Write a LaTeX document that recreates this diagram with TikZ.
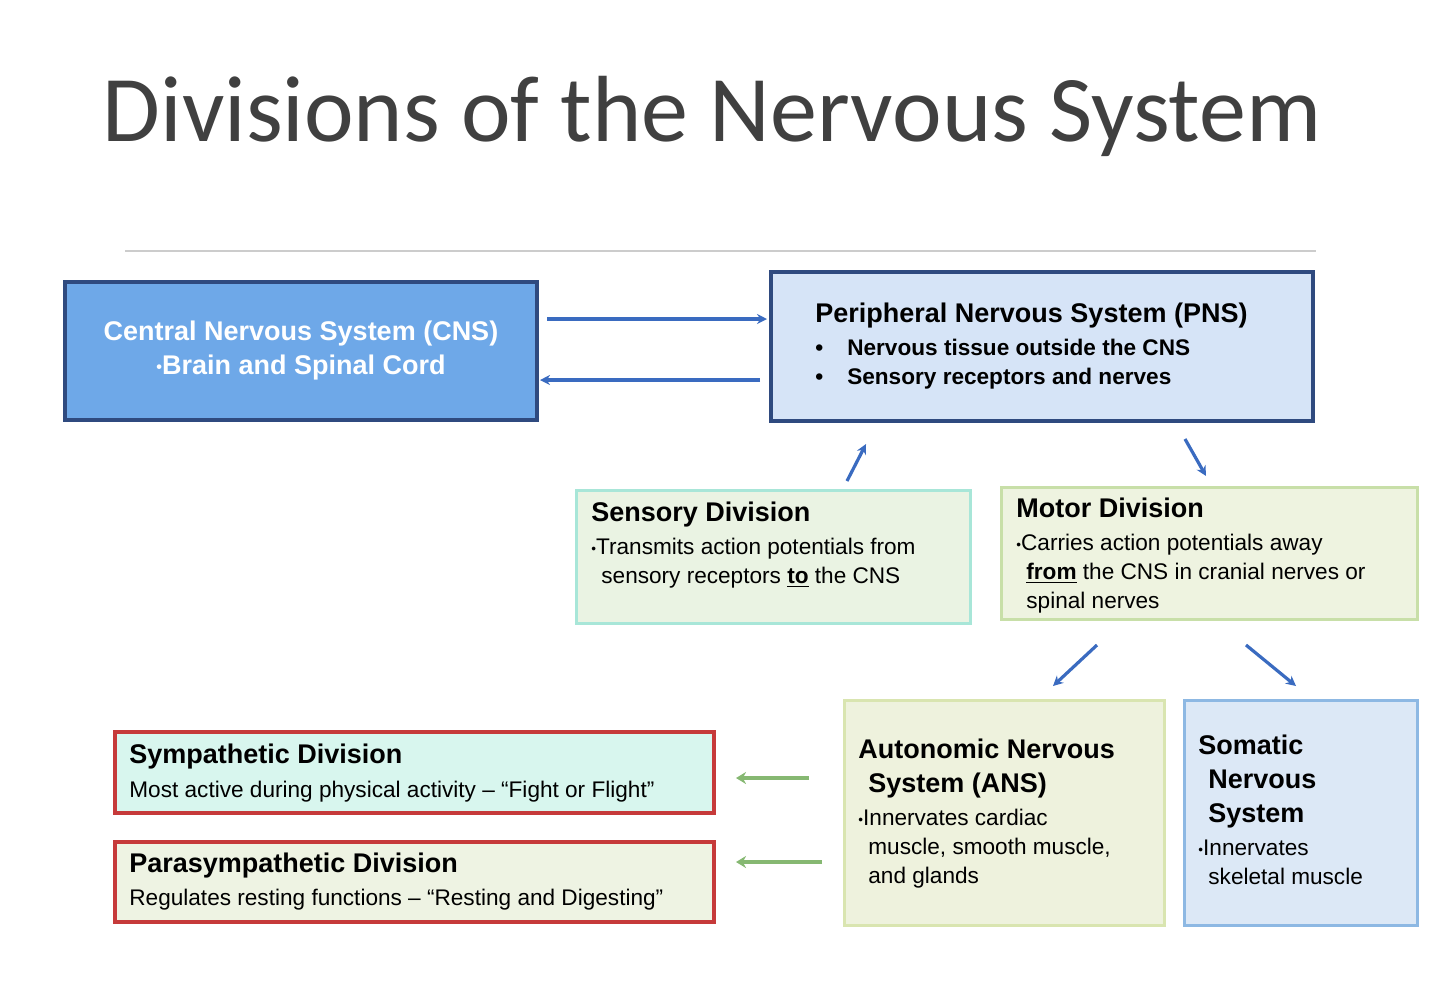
\documentclass[tikz,border=0pt]{standalone}
\usepackage{fontspec}
\setmainfont{Liberation Sans}
\newfontfamily\titlefont{Carlito}
\usetikzlibrary{arrows.meta}
\definecolor{navy}{HTML}{2F4A7F}
\definecolor{cnsfill}{HTML}{6EA8E8}
\definecolor{pnsfill}{HTML}{D6E4F7}
\definecolor{arrblue}{HTML}{3A6BC0}
\definecolor{arrgreen}{HTML}{86B872}
\definecolor{redb}{HTML}{C63A3A}
\definecolor{sensd}{HTML}{A8E6D8}\definecolor{sensf}{HTML}{EAF3E3}
\definecolor{motd}{HTML}{C8DFA8}\definecolor{motf}{HTML}{EEF3E0}
\definecolor{ansd}{HTML}{D9E5B0}\definecolor{ansf}{HTML}{EEF2DD}
\definecolor{somd}{HTML}{8DB8E3}\definecolor{somf}{HTML}{DCE8F6}
\definecolor{symf}{HTML}{D8F6EE}\definecolor{parf}{HTML}{EEF3E3}
\newcommand{\bdot}{\raisebox{0.15ex}{\scalebox{0.6}{\textbullet}}}
\begin{document}
\begin{tikzpicture}[x=0.5pt,y=-0.5pt,
 barrow/.style={draw=arrblue,line width=1.6pt,-{Stealth[length=5pt,width=5pt]}},
 garrow/.style={draw=arrgreen,line width=2pt,-{Stealth[length=5pt,width=6pt]}},
 txt/.style={anchor=north west,align=left,font=\fontsize{11.3}{14.5}\selectfont,inner sep=0pt},
 hd/.style={font=\fontsize{13.5}{17}\selectfont\bfseries}]
\useasboundingbox (0,0) rectangle (1440,982);
\node[font=\titlefont\fontsize{47}{50}\selectfont,text=black!75] (title) at (712,116) {Divisions of the Nervous System};
\draw[black!20,line width=0.8pt] (125,251) -- (1316,251);
% boxes
\draw[navy,line width=1.8pt,fill=cnsfill] (65,282) rectangle (537,420);
\node[align=center,text=white,font=\fontsize{13.5}{17}\selectfont\bfseries] (cns) at (301,351) {Central Nervous System (CNS)\\\bdot Brain and Spinal Cord};
\draw[navy,line width=1.8pt,fill=pnsfill] (771,272) rectangle (1313,421);
\node[txt,font=\fontsize{13.5}{17}\selectfont\bfseries] (pns) at (815,303) {Peripheral Nervous System (PNS)};
\node[txt,font=\fontsize{11.3}{14.5}\selectfont\bfseries] (pnsb) at (815,339) {\textbullet\hspace{12pt}Nervous tissue outside the CNS\\\textbullet\hspace{12pt}Sensory receptors and nerves};
\draw[sensd,line width=1.5pt,fill=sensf] (576,490) rectangle (970,623);
\node[txt,hd] (sens) at (591,502) {Sensory Division};
\node[txt] (sensb) at (591,538) {\bdot Transmits action potentials from\\\hspace{5pt}sensory receptors \textbf{\underline{to}} the CNS};
\draw[motd,line width=1.5pt,fill=motf] (1001,487) rectangle (1417,619);
\node[txt,hd] (mot) at (1016,498) {Motor Division};
\node[txt] (motb) at (1016,534) {\bdot Carries action potentials away\\\hspace{5pt}\textbf{\underline{from}} the CNS in cranial nerves or\\\hspace{5pt}spinal nerves};
\draw[ansd,line width=1.5pt,fill=ansf] (844,700) rectangle (1164,925);
\node[txt,hd] (ans) at (858,739) {Autonomic Nervous\\\hspace{5pt}System (ANS)};
\node[txt] (ansb) at (858,809) {\bdot Innervates cardiac\\\hspace{5pt}muscle, smooth muscle,\\\hspace{5pt}and glands};
\draw[somd,line width=1.5pt,fill=somf] (1184,700) rectangle (1417,925);
\node[txt,hd] (som) at (1198,735) {Somatic\\\hspace{5pt}Nervous\\\hspace{5pt}System};
\node[txt] (somb) at (1198,840) {\bdot Innervates\\\hspace{5pt}skeletal muscle};
\draw[redb,line width=1.8pt,fill=symf] (115,732) rectangle (714,813);
\node[txt,hd] (sym) at (129,744) {Sympathetic Division};
\node[txt] (symb) at (129,781) {Most active during physical activity -- ``Fight or Flight''};
\draw[redb,line width=1.8pt,fill=parf] (115,842) rectangle (714,922);
\node[txt,hd] (par) at (129,853) {Parasympathetic Division};
\node[txt] (parb) at (129,889) {Regulates resting functions -- ``Resting and Digesting''};
% arrows
\coordinate (a1) at (547,319); \coordinate (a2) at (767,319);
\coordinate (b1) at (760,380); \coordinate (b2) at (540,380);
\coordinate (c1) at (847,481); \coordinate (c2) at (866,444);
\coordinate (d1) at (1185,439); \coordinate (d2) at (1206,476);
\coordinate (e1) at (1097,645); \coordinate (e2) at (1053,686);
\coordinate (f1) at (1246,645); \coordinate (f2) at (1296,686);
\coordinate (g1) at (809,778); \coordinate (g2) at (736,778);
\coordinate (h1) at (822,862); \coordinate (h2) at (736,862);
\draw[barrow] (a1) -- (a2);
\draw[barrow] (b1) -- (b2);
\draw[barrow] (c1) -- (c2);
\draw[barrow] (d1) -- (d2);
\draw[barrow] (e1) -- (e2);
\draw[barrow] (f1) -- (f2);
\draw[garrow] (g1) -- (g2);
\draw[garrow] (h1) -- (h2);
\end{tikzpicture}
\end{document}
